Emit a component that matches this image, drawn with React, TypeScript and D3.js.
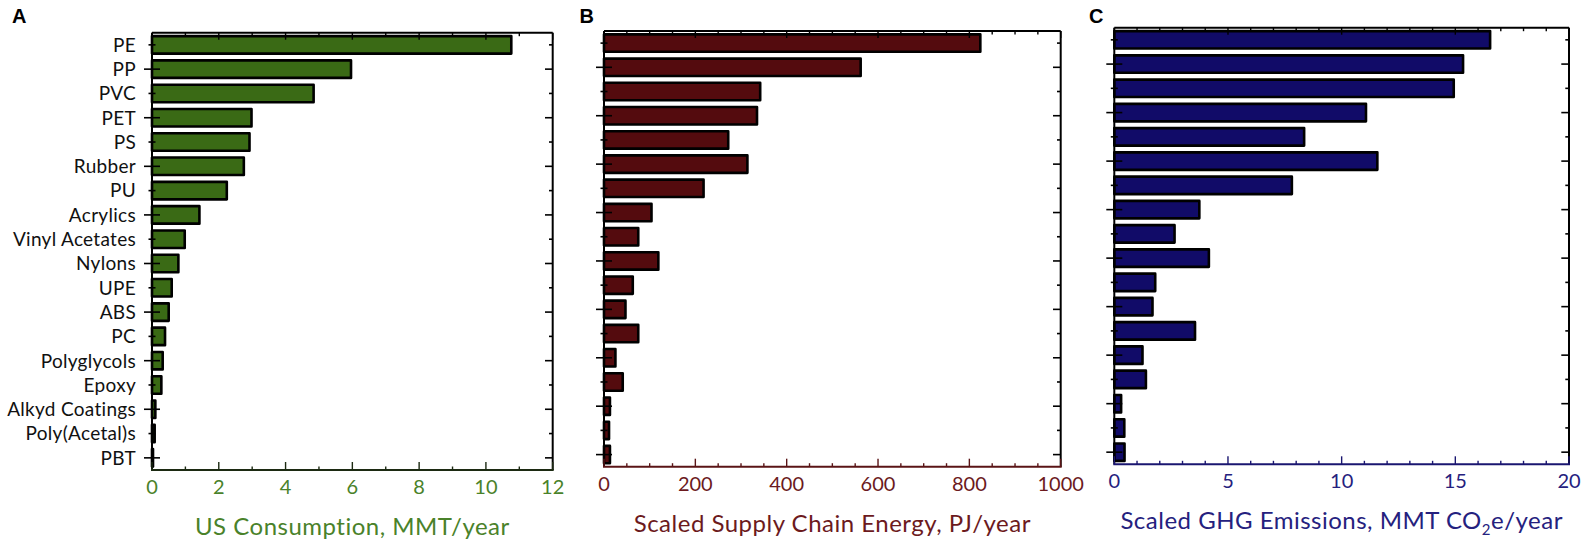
import React from 'react';
import * as d3 from 'd3';

// Plastics, ordered by US consumption
const categories = [
  'PE', 'PP', 'PVC', 'PET', 'PS', 'Rubber', 'PU', 'Acrylics', 'Vinyl Acetates', 'Nylons',
  'UPE', 'ABS', 'PC', 'Polyglycols', 'Epoxy', 'Alkyd Coatings', 'Poly(Acetal)s', 'PBT',
];
// US consumption, MMT/year
const consumption = [10.76, 5.96, 4.84, 2.98, 2.92, 2.75, 2.24, 1.42, 0.98, 0.79, 0.59, 0.5, 0.39, 0.32, 0.28, 0.1, 0.08, 0.03];
// Scaled supply chain energy, PJ/year
const energy = [824, 562, 342, 335, 272, 314, 218, 104, 75, 119, 63, 47, 75, 25, 41, 13, 11, 13];
// Scaled GHG emissions, MMT CO2e/year
const emissions = [16.53, 15.34, 14.93, 11.07, 8.35, 11.57, 7.81, 3.74, 2.65, 4.16, 1.8, 1.68, 3.55, 1.24, 1.39, 0.3, 0.44, 0.45];

const consumptionTicks = [0, 2, 4, 6, 8, 10, 12];
const energyTicks = [0, 200, 400, 600, 800, 1000];
const emissionTicks = [0, 5, 10, 15, 20];

const FONT = 'Lato, "Noto Sans", sans-serif';

type Panel = {
  letter: string;
  letterX: number;
  left: number;
  right: number;
  top: number;
  bottom: number;
  values: number[];
  ticks: number[];
  minorStep: number;
  fill: string;
  text: string;
  baseLine: string;
  title: React.ReactNode;
  showLabels: boolean;
};

const panels: Panel[] = [
  {
    letter: 'A', letterX: 12, left: 152, right: 552.7, top: 32.7, bottom: 470,
    values: consumption, ticks: consumptionTicks, minorStep: 1,
    fill: '#3a6a15', text: '#4a822a', baseLine: '#1c2a12',
    title: 'US Consumption, MMT/year', showLabels: true,
  },
  {
    letter: 'B', letterX: 579.5, left: 604, right: 1060.7, top: 31, bottom: 466.7,
    values: energy, ticks: energyTicks, minorStep: 50,
    fill: '#540b0e', text: '#6c1a1d', baseLine: '#5a1416',
    title: 'Scaled Supply Chain Energy, PJ/year', showLabels: false,
  },
  {
    letter: 'C', letterX: 1089, left: 1114.3, right: 1569, top: 27.7, bottom: 464.3,
    values: emissions, ticks: emissionTicks, minorStep: 1,
    fill: '#110b68', text: '#25217e', baseLine: '#1a1670',
    title: (
      <>
        Scaled GHG Emissions, MMT CO
        <tspan fontSize={15} dy={6}>2</tspan>
        <tspan dy={-6}>e/year</tspan>
      </>
    ),
    showLabels: false,
  },
];

function BarPanel({ p }: { p: Panel }) {
  const max = p.ticks[p.ticks.length - 1];
  const majorStep = p.ticks[1] - p.ticks[0];
  const x = d3.scaleLinear().domain([0, max]).range([p.left, p.right]);
  const y = d3
    .scaleBand<string>()
    .domain(categories)
    .range([p.top, p.bottom])
    .paddingInner(0.28)
    .paddingOuter(0.14);
  const minor = d3.range(0, max + 1e-9, p.minorStep);
  const isMajor = (v: number) => Math.abs(v / majorStep - Math.round(v / majorStep)) < 1e-6;
  const cx = (p.left + p.right) / 2;

  return (
    <g>
      <text x={p.letterX} y={23.3} fontFamily='"Liberation Sans", Arial, sans-serif' fontWeight={700} fontSize={20} fill="#000">
        {p.letter}
      </text>

      {/* bars */}
      {categories.map((c, i) => (
        <rect
          key={c}
          x={x(0)}
          y={y(c)!}
          width={Math.max(0, x(p.values[i]) - x(0))}
          height={y.bandwidth()}
          fill={p.fill}
          stroke="#000"
          strokeWidth={2.6}
          strokeLinejoin="round"
        />
      ))}

      {/* frame */}
      <line x1={p.left} x2={p.right} y1={p.top} y2={p.top} stroke="#000" strokeWidth={2} />
      <line x1={p.left} x2={p.left} y1={p.top} y2={p.bottom} stroke="#000" strokeWidth={2} />
      <line x1={p.right} x2={p.right} y1={p.top} y2={p.bottom} stroke="#000" strokeWidth={2} />
      <line x1={p.left - 1} x2={p.right + 1} y1={p.bottom} y2={p.bottom} stroke={p.baseLine} strokeWidth={2} />

      {/* category ticks */}
      {categories.map((c, i) => {
        const yy = y(c)! + y.bandwidth() / 2;
        const long = i % 2 === 1;
        const l = long ? 8 : 3.5;
        const r = long ? 7.7 : 3.7;
        return (
          <g key={c}>
            <line x1={p.left - l} x2={p.left + l} y1={yy} y2={yy} stroke="#000" strokeWidth={1.6} />
            <line x1={p.right - r} x2={p.right} y1={yy} y2={yy} stroke="#000" strokeWidth={1.6} />
            {p.showLabels && (
              <text
                x={p.left - 16}
                y={yy}
                dy="0.36em"
                textAnchor="end"
                fontFamily={FONT}
                fontSize={19}
                letterSpacing={0.3}
                fill="#111"
              >
                {c}
              </text>
            )}
          </g>
        );
      })}

      {/* value ticks */}
      {minor.map((v) => {
        const major = isMajor(v);
        const xx = x(v);
        return (
          <g key={v}>
            <line x1={xx} x2={xx} y1={p.top} y2={p.top + (major ? 7 : 3.5)} stroke="#000" strokeWidth={1.4} />
            <line x1={xx} x2={xx} y1={p.bottom} y2={p.bottom - (major ? 8 : 3.5)} stroke={p.baseLine} strokeWidth={1.4} />
          </g>
        );
      })}
      {p.ticks.map((v) => (
        <text key={v} x={x(v)} y={p.bottom + 24} textAnchor="middle" fontFamily={FONT} fontSize={20} fill={p.text}>
          {v}
        </text>
      ))}

      <text x={cx} y={p.bottom + 65} textAnchor="middle" fontFamily={FONT} fontSize={24} letterSpacing={0.5} fill={p.text}>
        {p.title}
      </text>
    </g>
  );
}

export default function App() {
  return (
    <svg
      width={1593}
      height={541}
      viewBox="0 0 1593 541"
      style={{ position: 'absolute', left: 0, top: 0, background: '#fff' }}
    >
      <rect width={1593} height={541} fill="#fff" />
      {panels.map((p) => (
        <BarPanel key={p.letter} p={p} />
      ))}
    </svg>
  );
}
